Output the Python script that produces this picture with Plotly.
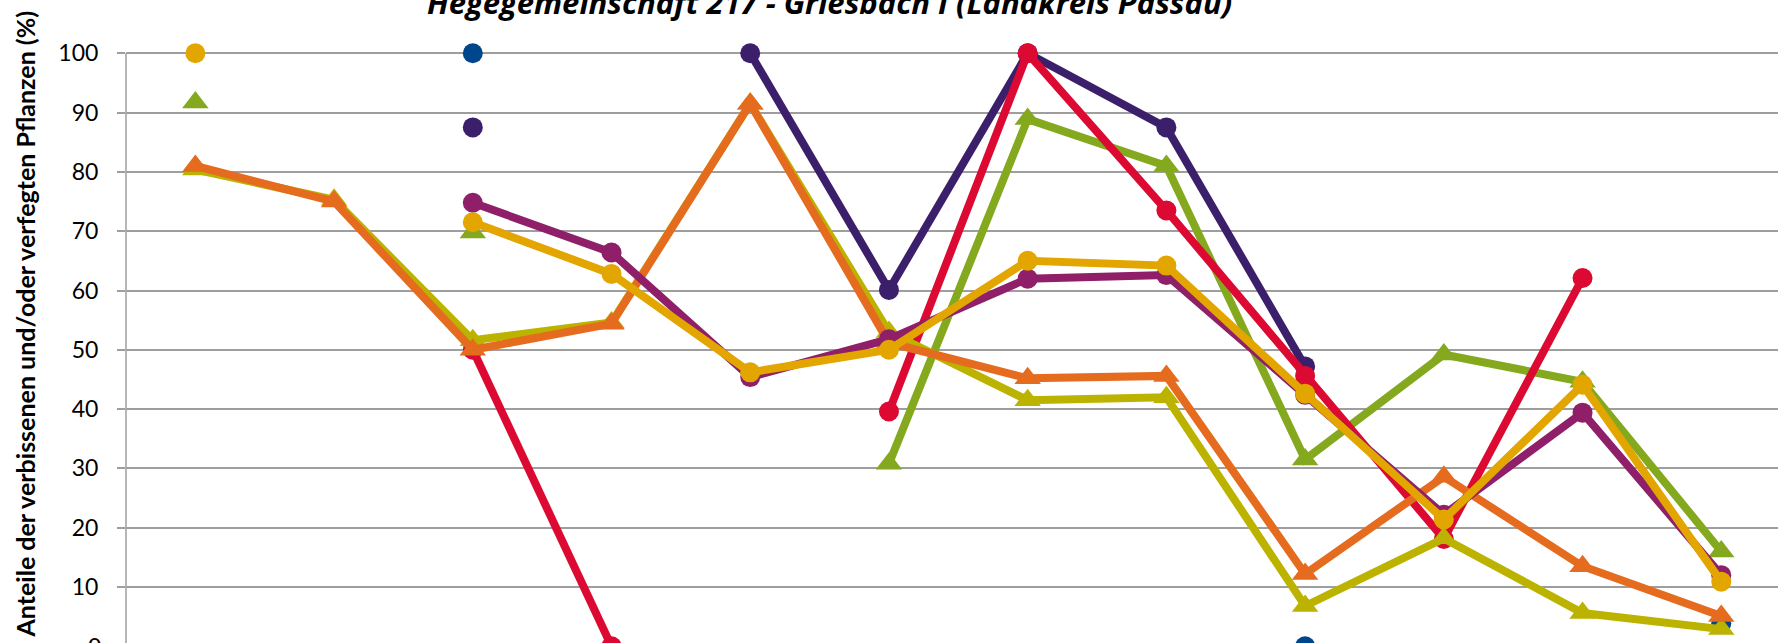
import plotly.graph_objects as go

# Categories (x-axis labels lie outside the visible crop)
categories = ["1", "2", "3", "4", "5", "6", "7", "8", "9", "10", "11", "12"]

# Series values (%)
gold =        [100, None, 71.5, 62.8, 46.2, 50.0, 65.0, 64.2, 42.6, 21.4, 44.1, 10.9]
dark_blue =   [None, None, 100, None, None, None, None, None, 0, None, None, 3.9]
dark_purple = [None, None, 87.5, None, 100, 60.1, 100, 87.5, 47.2, None, None, None]
magenta =     [None, None, 74.8, 66.4, 45.4, 51.8, 62.0, 62.6, 42.4, 22.2, 39.4, 12.0]
red =         [None, None, 50.0, 0, None, 39.6, 100, 73.5, 45.6, 18.1, 62.1, None]
green =       [91.7, None, 69.8, None, None, 30.8, 88.9, 81.0, 31.5, 49.2, 44.6, 16.0]
olive =       [80.4, 75.3, 51.6, 54.6, 91.5, 53.0, 41.5, 42.0, 6.8, 18.2, 5.6, 2.9]
orange =      [81.0, 75.0, 50.0, 54.4, 91.5, 51.2, 45.2, 45.6, 12.2, 28.6, 13.5, 5.1]

title_text = "Hegegemeinschaft 217 - Griesbach I (Landkreis Passau)"
ytitle_text = "Anteile der verbissenen und/oder verfegten Pflanzen (%)"
y_ticks = [0, 10, 20, 30, 40, 50, 60, 70, 80, 90, 100]

# drawing order (later on top)
series = [
    ("dark_blue", dark_blue, "#00468C", "circle"),
    ("dark_purple", dark_purple, "#3C1F6B", "circle"),
    ("green", green, "#84A91E", "triangle-up"),
    ("red", red, "#DC0A32", "circle"),
    ("olive", olive, "#BCB300", "triangle-up"),
    ("orange", orange, "#E56B1F", "triangle-up"),
    ("magenta", magenta, "#8F1F68", "circle"),
    ("gold", gold, "#E3A600", "circle"),
]

W, H = 1778, 643
L = 126
fig = go.Figure()
for name, vals, col, sym in series:
    fig.add_trace(go.Scatter(
        x=categories, y=vals, name=name, mode="lines+markers",
        line=dict(color=col, width=8),
        marker=dict(color=col, symbol=sym, size=23 if sym != "circle" else 20,
                    line=dict(width=0)),
        connectgaps=False, showlegend=False,
    ))

px_per_unit = 5.93
y0_px = 646.3
ymin = (y0_px - H) / px_per_unit
ymax = y0_px / px_per_unit
xmax = (W - 195) / 138.75

fig.update_layout(
    width=W, height=H,
    margin=dict(l=L, r=0, t=0, b=0, autoexpand=False),
    paper_bgcolor="white", plot_bgcolor="white",
    font=dict(family="Lato", color="#000000"),
    xaxis=dict(type="category", range=[-0.5, xmax], showticklabels=False,
               showgrid=False, zeroline=False, showline=False, ticks=""),
    yaxis=dict(range=[ymin, ymax], tickvals=y_ticks, showgrid=True,
               gridcolor="#9E9E9E", gridwidth=1.5, zeroline=False, showline=False,
               ticks="outside", ticklen=8, tickwidth=1.5, tickcolor="#9E9E9E",
               tickfont=dict(family="Lato", size=23, color="#000000"),
               ticklabelstandoff=14, automargin=False),
)

# y axis line (from 0 to 100)
fig.add_shape(type="line", xref="paper", yref="y", x0=0, x1=0, y0=0, y1=100,
              line=dict(color="#9E9E9E", width=1.5))

# "0" tick label partly visible at bottom
fig.add_annotation(text="0", xref="paper", yref="paper",
                   x=(103 - L) / (W - L), y=-(y0_px - H) / H,
                   xanchor="right", yanchor="middle", showarrow=False,
                   font=dict(family="Lato", size=23, color="#000000"))

# title (cut off at top)
fig.add_annotation(text=title_text, xref="paper", yref="paper",
                   x=(829 - L) / (W - L), y=1 - 24 / H,
                   xanchor="center", yanchor="bottom", showarrow=False, borderpad=0,
                   font=dict(family="Open Sans", size=31, color="#000000",
                             weight="bold", style="italic"))

# y-axis title
fig.add_annotation(text=ytitle_text, xref="paper", yref="paper",
                   x=(25 - L) / (W - L), y=1 - 324.5 / H, textangle=-90,
                   xanchor="center", yanchor="middle", showarrow=False,
                   font=dict(family="Lato", size=25, color="#000000", weight="bold"))

fig.write_html("out.html", post_script="document.body.style.margin='0';",
               config={"displayModeBar": False})
